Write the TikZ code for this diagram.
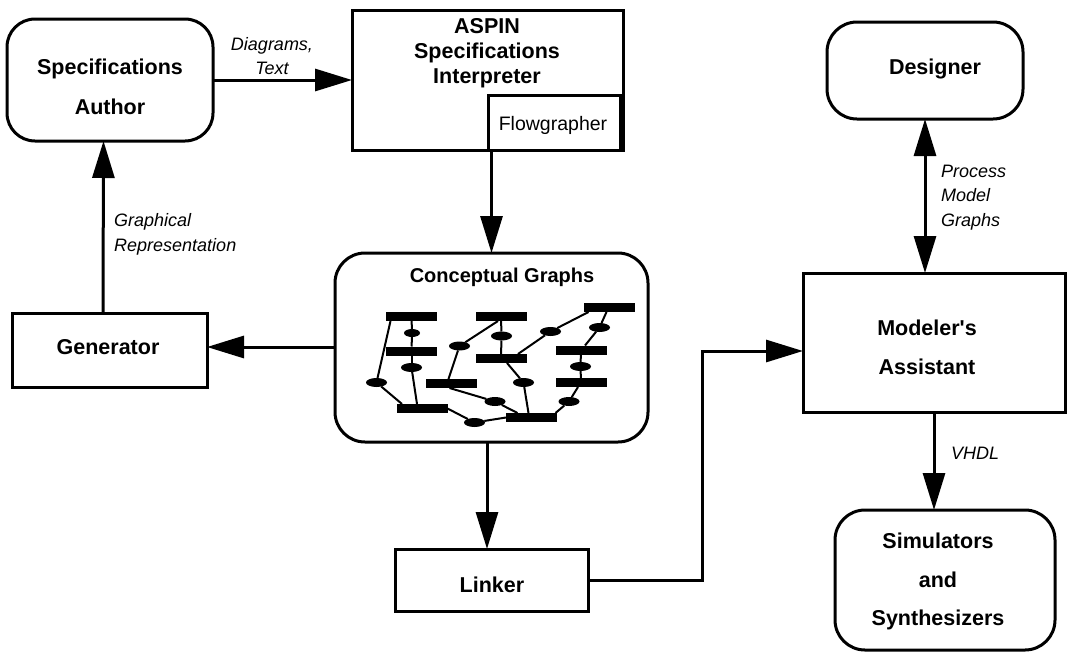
\documentclass[tikz,border=0pt]{standalone}
\usepackage{fontspec}
\setmainfont{Liberation Sans}
\usetikzlibrary{arrows.meta,shapes.geometric}

\begin{document}
\begin{tikzpicture}[x=1pt,y=-1pt,
  box/.style={draw, line width=3pt, inner sep=0pt, outer sep=0pt},
  rbox/.style={box, rounded corners=28pt},
  title/.style={font=\fontsize{21.5}{40}\selectfont\bfseries, align=center, inner sep=0pt},
  lab/.style={font=\fontsize{18}{24.5}\selectfont\itshape, inner sep=0pt},
  arr/.style={line width=3pt, -{Triangle[length=37pt,width=22pt]}},
  darr/.style={line width=3pt, {Triangle[length=37pt,width=22pt]}-{Triangle[length=37pt,width=22pt]}},
  cgrect/.style={fill=black, minimum width=51pt, minimum height=9pt, inner sep=0pt, outer sep=0pt},
  cgell/.style={ellipse, fill=black, minimum width=21pt, minimum height=9pt, inner sep=0pt, outer sep=0pt},
  cgline/.style={line width=2pt}]

\useasboundingbox (0,0) rectangle (1067,656);

% ---- boxes ----
\node[rbox, minimum width=206pt, minimum height=122pt] (author) at (110,80) {};
\node[box, minimum width=271pt, minimum height=140pt] (aspin) at (487.5,80) {};
\node[box, minimum width=132pt, minimum height=55pt] (flow) at (554,122.5) {};
\node[rbox, rounded corners=30pt, minimum width=313pt, minimum height=189pt] (cg) at (491.5,347.5) {};
\node[box, minimum width=195pt, minimum height=74pt] (gen) at (109.5,350) {};
\node[box, minimum width=193pt, minimum height=62pt] (linker) at (491.5,580) {};
\node[rbox, rounded corners=30pt, minimum width=196pt, minimum height=97pt] (designer) at (925,70.5) {};
\node[box, minimum width=262pt, minimum height=139pt] (modeler) at (934,342.5) {};
\node[rbox, rounded corners=30pt, minimum width=220pt, minimum height=140pt] (sim) at (945,580) {};

% ---- box texts ----
\node[title] (authortext) at (110,87) {Specifications\\Author};
\node[title, font=\fontsize{21.5}{25}\selectfont\bfseries] (aspintext) at (487,53) {ASPIN\\Specifications\\Interpreter};
\node[inner sep=0pt, font=\fontsize{19.5}{22}\selectfont] (flowtext) at (553,125) {Flowgrapher};
\node[title, font=\fontsize{20}{22}\selectfont\bfseries] (cgtext) at (502,277) {Conceptual Graphs};
\node[title] (gentext) at (108,347) {Generator};
\node[title] (linkertext) at (492,585) {Linker};
\node[title] (designertext) at (935,69) {Designer};
\node[title, font=\fontsize{21.5}{39}\selectfont\bfseries] (modelertext) at (927,347.5) {Modeler\textquotesingle s\\Assistant};
\node[title, font=\fontsize{21.5}{38.5}\selectfont\bfseries] (simtext) at (938,581.5) {Simulators\\and\\Synthesizers};

% ---- connector labels ----
\node[lab, align=center] (l1) at (272,56) {Diagrams,\\Text};
\node[lab, align=left, anchor=west] (l2) at (114,234.5) {Graphical\\Representation};
\node[lab, align=left, anchor=west] (l3) at (941,197.5) {Process\\Model\\Graphs};
\node[lab] (l4) at (975,453) {VHDL};

% ---- connectors ----
\coordinate (bend) at (702,351);
\draw[arr] (author.east) -- (aspin.west);
\draw[arr] (cg.north |- aspin.south) -- (cg.north);
\draw[arr] (cg.west |- 0,347) -- (gen.east |- 0,347);
\draw[arr] ([xshift=-6.5pt]gen.north) -- ([xshift=-6.5pt]author.south);
\draw[arr] ([xshift=-4.5pt]cg.south) -- ([xshift=-4.5pt]linker.north);
\draw[arr] (linker.east) -| (bend) -- (bend -| modeler.west);
\draw[darr] (designer.south) -- (designer.south |- modeler.north);
\draw[arr] (modeler.south) -- (modeler.south |- sim.north);

% ---- conceptual graph sketch ----
\node[cgrect] (r1) at (411.5,316.5) {};
\node[cgrect] (r2) at (501,316.5) {};
\node[cgrect] (r3) at (609.5,307.5) {};
\node[cgrect] (r4) at (411.5,351) {};
\node[cgrect] (r5) at (501,358.5) {};
\node[cgrect] (r6) at (581,350) {};
\node[cgrect] (r7) at (451.5,383.5) {};
\node[cgrect] (r8) at (581,382.5) {};
\node[cgrect] (r9) at (422,408.5) {};
\node[cgrect] (r10) at (531.5,417.5) {};

\node[cgell, minimum width=16pt, minimum height=8pt] (e1) at (412,333) {};
\node[cgell] (e2) at (411.5,367.5) {};
\node[cgell] (e3) at (376.5,382.5) {};
\node[cgell] (e4) at (459.5,346) {};
\node[cgell] (e5) at (501.5,336) {};
\node[cgell] (e6) at (550.5,331.5) {};
\node[cgell] (e7) at (599.5,327.5) {};
\node[cgell] (e8) at (580.5,366.5) {};
\node[cgell] (e9) at (523.5,382.5) {};
\node[cgell] (e10) at (495,401.5) {};
\node[cgell] (e11) at (569,401.5) {};
\node[cgell] (e12) at (474.5,422.5) {};

\draw[cgline] ([xshift=-21pt]r1.south) -- (e3);
\draw[cgline] (r1) -- (e1);
\draw[cgline] (e1) -- (r4);
\draw[cgline] (r4) -- (e2);
\draw[cgline] (e2) -- ([xshift=-5pt]r9.north);
\draw[cgline] (e3) -- ([xshift=-20pt]r9.north);
\draw[cgline] ([xshift=-3pt]r2.south) -- (e4);
\draw[cgline] (e4) -- ([xshift=-3pt]r7.north);
\draw[cgline] (r2) -- (e5);
\draw[cgline] (e5) -- (r5);
\draw[cgline] ([xshift=-21pt]r3.south) -- (e6);
\draw[cgline] (e6) -- ([xshift=17pt]r5.north);
\draw[cgline] ([xshift=-3pt]r3.south) -- (e7);
\draw[cgline] (e7) -- ([xshift=4pt]r6.north);
\draw[cgline] (r6) -- (e8);
\draw[cgline] (e8) -- (r8);
\draw[cgline] ([xshift=-3pt]r8.south) -- (e11);
\draw[cgline] (e11) -- ([xshift=24pt]r10.north);
\draw[cgline] ([xshift=6pt]r5.south) -- (e9);
\draw[cgline] (e9) -- ([xshift=-3pt]r10.north);
\draw[cgline] ([xshift=-2pt]r7.south) -- (e10);
\draw[cgline] (e10) -- ([xshift=-14pt]r10.north);
\draw[cgline] (r9.east) -- (e12);
\draw[cgline] (e12) -- (r10.west);
\end{tikzpicture}
\end{document}
